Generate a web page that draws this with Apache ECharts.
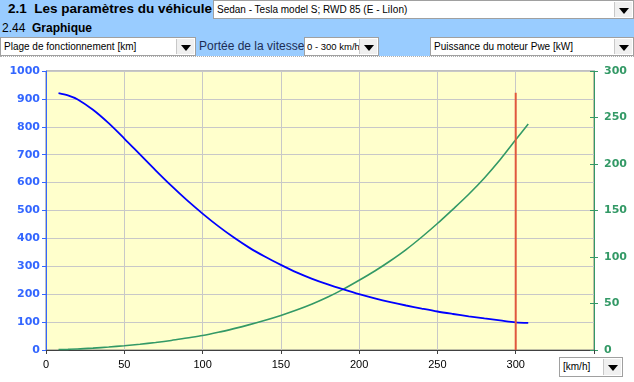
<!DOCTYPE html>
<html><head><meta charset="utf-8">
<script src="https://cdn.jsdelivr.net/npm/echarts@6/dist/echarts.min.js"></script>
<style>
html,body{margin:0;padding:0;width:634px;height:382px;overflow:hidden;background:#fff;font-family:"Liberation Sans",Arial,sans-serif;}
#chart{position:absolute;left:0;top:0;width:634px;height:382px;}
.bar{position:absolute;left:0;width:634px;background:#99CCFF;}
.box{position:absolute;background:#fff;border:1px solid #a0a0a0;box-sizing:border-box;font-size:10px;color:#000;line-height:16px;padding-left:3px;white-space:nowrap;overflow:hidden;}
.btn{position:absolute;top:1px;bottom:1px;right:1px;width:17px;background:#f0f0f0;border-left:1px solid #c8c8c8;}
.btn:after{content:"";position:absolute;left:4px;top:6px;border-left:5px solid transparent;border-right:5px solid transparent;border-top:6px solid #000;}
.t{position:absolute;white-space:nowrap;}
</style></head>
<body>
<div id="chart"></div>
<div class="bar" style="top:0;height:19px;"></div>
<div class="t" style="left:8px;top:1px;font-size:13.5px;font-weight:bold;color:#000;">2.1&nbsp;&nbsp;Les paramètres du véhicule</div>
<div class="box" style="left:213px;top:0;width:421px;height:19px;line-height:17px;">Sedan - Tesla model S; RWD 85 (E - LiIon)<div class="btn"></div></div>
<div class="bar" style="top:19px;height:37px;"></div>
<div class="t" style="left:2px;top:21px;font-size:12px;color:#000;">2.44&nbsp;&nbsp;<b>Graphique</b></div>
<div class="box" style="left:0;top:37px;width:196px;height:19px;line-height:17px;">Plage de fonctionnement [km]<div class="btn"></div></div>
<div class="t" style="left:199px;top:39px;font-size:12px;color:#1c2c55;">Portée de la vitesse</div>
<div class="box" style="left:304px;top:37px;width:75px;height:19px;line-height:17px;padding-left:2px;font-size:9.5px;">0 - 300 km/h<div class="btn"></div></div>
<div class="box" style="left:430px;top:37px;width:204px;height:19px;line-height:17px;">Puissance du moteur Pwe [kW]<div class="btn"></div></div>
<div style="position:absolute;left:0;top:56px;width:634px;border-top:1px dotted #b0b0b0;"></div>
<div class="box" style="left:559px;top:357px;width:64px;height:20px;line-height:18px;">[km/h]<div class="btn"></div></div>
<script>
// speed [km/h]
const speeds = [8,14,20,30,40,50,60,70,80,90,100,110,120,130,140,150,160,170,180,190,200,210,220,230,240,250,260,270,280,290,300,308];
// Plage de fonctionnement [km] (left axis)
const rangeKm = [921,913,899,861,813,758,701,644,589,537,489,444,403,366,334,305,278,255,235,217,200,185,171.5,159.5,148.5,138,129,120.5,113,106,99,97];
// Puissance du moteur Pwe [kW] (right axis)
const powerKw = [0.5,0.7,1,2,3.2,4.6,6.2,8.1,10.3,12.9,15.5,19,23,27.3,32,37.2,43,49.5,57,65.5,75,85,96,108,121.5,136,151.5,167.5,185,204.5,226,243];
// selected max speed marker
const markerSpeed = 300;
const markerTop = 922;
const xTicks = {min:0, max:350, step:50};
const leftTicks = {min:0, max:1000, step:100};
const rightTicks = {min:0, max:300, step:50};

const chart = echarts.init(document.getElementById('chart'));
const zip = (xs, ys) => xs.map((x,i)=>[x, ys[i]]);
chart.setOption({
  animation:false,
  grid:{left:46,right:40,top:71,bottom:32,show:true,backgroundColor:'#FFFFCC',borderColor:'#808080',borderWidth:1},
  xAxis:{type:'value',min:xTicks.min,max:xTicks.max,interval:xTicks.step,
    axisLine:{lineStyle:{color:'#404040',width:1}},
    axisTick:{length:4,lineStyle:{color:'#404040'}},
    axisLabel:{margin:9,color:'#000',fontFamily:'Liberation Sans',fontSize:11,formatter:v=>v>=350?'':String(v)},
    splitLine:{lineStyle:{color:'#C8C8C8',width:1}}},
  yAxis:[
    {type:'value',position:'left',min:leftTicks.min,max:leftTicks.max,interval:leftTicks.step,
      axisLine:{show:true,lineStyle:{color:'#3366FF'}},
      axisTick:{show:true,length:4,lineStyle:{color:'#3366FF'}},
      axisLabel:{margin:6,color:'#3366FF',fontFamily:'DejaVu Sans',fontWeight:'bold',fontSize:11,formatter:v=>String(v)},
      splitLine:{lineStyle:{color:'#C8C8C8',width:1}}},
    {type:'value',position:'right',min:rightTicks.min,max:rightTicks.max,interval:rightTicks.step,
      axisLine:{show:true,lineStyle:{color:'#339966'}},
      axisTick:{show:true,length:4,lineStyle:{color:'#339966'}},
      axisLabel:{margin:10,color:'#339966',fontFamily:'DejaVu Sans',fontWeight:'bold',fontSize:11,formatter:v=>String(v)},
      splitLine:{show:false}},
    {type:'value',position:'right',min:rightTicks.min,max:rightTicks.max,interval:rightTicks.step,
      axisLine:{show:false},
      axisTick:{show:true,inside:true,length:4,lineStyle:{color:'#339966'}},
      axisLabel:{show:false},splitLine:{show:false}}
  ],
  series:[
    {type:'line',name:'Puissance du moteur Pwe [kW]',yAxisIndex:1,data:zip(speeds,powerKw),smooth:0.3,symbol:'none',
      lineStyle:{color:'#339966',width:1.6}},
    {type:'line',name:'Plage de fonctionnement [km]',yAxisIndex:0,data:zip(speeds,rangeKm),smooth:0.3,symbol:'none',
      lineStyle:{color:'#0000FF',width:1.8}},
    {type:'line',name:'marker',yAxisIndex:0,data:[[markerSpeed,0],[markerSpeed,markerTop]],symbol:'none',
      lineStyle:{color:'#E0583E',width:2}}
  ]
});
</script>
</body></html>
